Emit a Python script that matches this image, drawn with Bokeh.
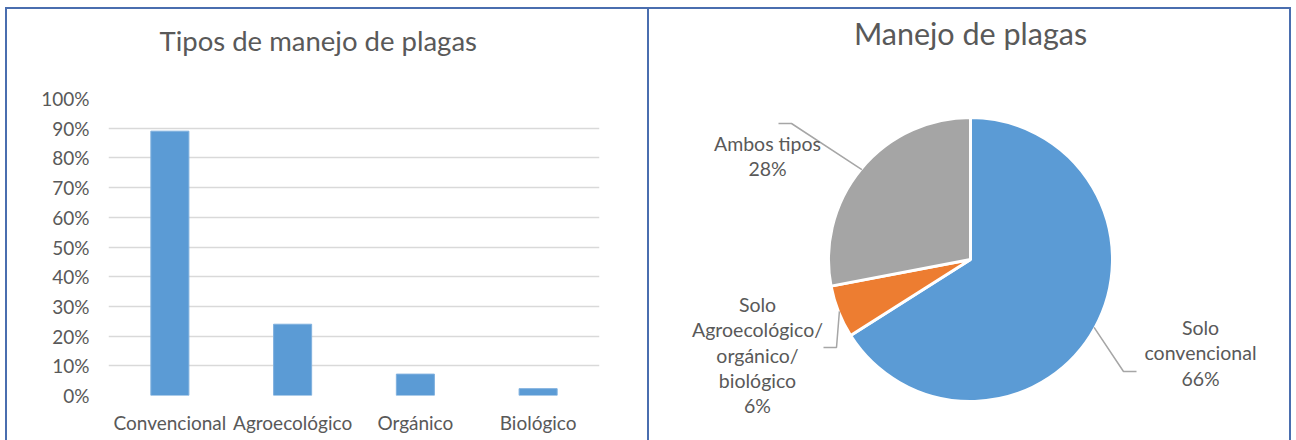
import math
from bokeh.plotting import figure
from bokeh.models import (Range1d, NumeralTickFormatter, FixedTicker, ColumnDataSource, Spacer, Title)
from bokeh.layouts import row, column
from bokeh.embed import file_html
from bokeh.resources import INLINE
from bokeh.core.properties import value

# ---------------- data ----------------
bar_title = "Tipos de manejo de plagas"
bar_categories = ["Convencional", "Agroecológico", "Orgánico", "Biológico"]
bar_values = [0.89, 0.24, 0.072, 0.023]
y_ticks = [0.0, 0.1, 0.2, 0.3, 0.4, 0.5, 0.6, 0.7, 0.8, 0.9, 1.0]

pie_title = "Manejo de plagas"
pie_labels = ["Solo\nconvencional", "Solo\nAgroecológico/\norgánico/\nbiológico", "Ambos tipos"]
pie_values = [0.66, 0.06, 0.28]
pie_colors = ["#5B9BD5", "#ED7D31", "#A5A5A5"]

# ---------------- style ----------------
FONT = "Lato"
TXT = "#595959"
BC = "#4A6EAF"
H = 435

# ---------------- bar chart ----------------
W1 = 644
p1 = figure(x_range=bar_categories, y_range=Range1d(0, 1), width=W1, height=H,
            output_backend="svg", toolbar_location=None, title=None,
            min_border_left=101, min_border_right=52, min_border_top=89, min_border_bottom=49,
            outline_line_color=None, frame_align=False,
            styles={"border": f"2px solid {BC}"})
main_title = Title(text=bar_title, align="left", vertical_align="bottom", offset=51, standoff=0,
                   text_font=FONT, text_font_style="normal", text_font_size="27.5px",
                   text_color=TXT)
gap_title = Title(text=" ", standoff=38, text_font_size="2px", text_color="white")
p1.above = [gap_title, main_title]

p1.vbar(x=bar_categories, top=bar_values, width=0.31, fill_color="#5B9BD5",
        line_color="#7FB0DE", line_width=1)

p1.yaxis.ticker = FixedTicker(ticks=y_ticks)
p1.yaxis.formatter = NumeralTickFormatter(format="0%")
for ax in (p1.xaxis[0], p1.yaxis[0]):
    ax.axis_line_color = None
    ax.major_tick_line_color = None
    ax.minor_tick_line_color = None
    ax.major_tick_out = 0
    ax.major_tick_in = 0
    ax.major_label_text_font = FONT
    ax.major_label_text_font_size = "19px"
    ax.major_label_text_color = TXT
p1.yaxis.major_label_standoff = 19
p1.xaxis.major_label_standoff = 15
p1.xgrid.grid_line_color = None
p1.ygrid.grid_line_color = "#D9D9D9"
p1.ygrid.grid_line_width = 1.5

# ---------------- pie chart ----------------
W2 = 642
cx, cy = 321, 250  # pie centre in canvas pixels
p2 = figure(width=W2, height=H, x_range=Range1d(-cx, W2 - cx), y_range=Range1d(cy - H, cy),
            output_backend="svg", toolbar_location=None,
            x_axis_location=None, y_axis_location=None,
            min_border=0, min_border_left=0, min_border_right=0, min_border_top=0, min_border_bottom=0,
            outline_line_color=None, frame_align=False,
            styles={"border": f"2px solid {BC}", "border-left": "none"})
p2.grid.visible = False

R = 142
starts, ends, mids = [], [], []
cum = 0.0
for v in pie_values:
    a0 = math.pi / 2 - 2 * math.pi * cum
    cum += v
    a1 = math.pi / 2 - 2 * math.pi * cum
    starts.append(a0)
    ends.append(a1)
    mids.append((a0 + a1) / 2)

src = ColumnDataSource(dict(start=starts, end=ends, color=pie_colors))
p2.wedge(x=0, y=0, radius=R, start_angle="start", end_angle="end", direction="clock",
         fill_color="color", line_color="white", line_width=3, source=src)

# title
p2.text(x=[0], y=[cy - 23], text=[pie_title], text_align="center", text_baseline="middle",
        text_font=value(FONT), text_font_size="30.5px", text_color=TXT)

# labels: (label centre x, first line y, elbow point, end point) relative to pie centre
label_layout = [
    (230, -68, (153, -112), (166, -112)),
    (-213, -45, (-134, -88), (-147, -88)),
    (-203, 116, (-179, 136), (-192, 136)),
]
LINE_H = 25.3
lx, ly, ltxt = [], [], []
xs, ys = [], []
for lab, v, m, (tx, ty, elb, end) in zip(pie_labels, pie_values, mids, label_layout):
    lines = lab.split("\n") + [f"{round(v * 100)}%"]
    for i, t in enumerate(lines):
        lx.append(tx)
        ly.append(ty - i * LINE_H)
        ltxt.append(t)
    sx, sy = (R - 1) * math.cos(m), (R - 1) * math.sin(m)
    xs.append([sx, elb[0], end[0]])
    ys.append([sy, elb[1], end[1]])

p2.multi_line(xs=xs, ys=ys, line_color="#A6A6A6", line_width=1.5)
p2.text(x=lx, y=ly, text=ltxt, text_align="center", text_baseline="middle",
        text_font=value(FONT), text_font_size="19.5px", text_color=TXT)

layout = column(Spacer(height=7), row(Spacer(width=5), p1, p2, spacing=0), spacing=0)
open("out.html", "w").write(file_html(layout, INLINE))
